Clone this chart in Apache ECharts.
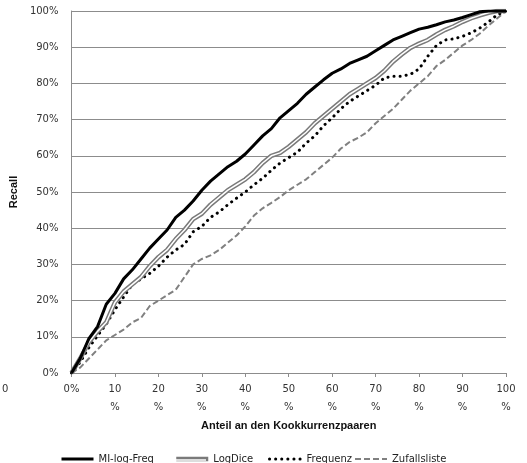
<!DOCTYPE html>
<html>
<head>
<meta charset="utf-8">
<script src="https://cdn.jsdelivr.net/npm/echarts@6/dist/echarts.min.js"></script>
<style>
html,body{margin:0;padding:0;background:#fff;}
#c{width:527px;height:463px;}
</style>
</head>
<body>
<div id="c"></div>
<script>
var xValues = [0,2,4,6,8,10,12,14,16,18,20,22,24,26,28,30,32,34,36,38,40,42,44,46,48,50,52,54,56,58,60,62,64,66,68,70,72,74,76,78,80,82,84,86,88,90,92,94,96,98,100];
var miLogFreq = [0,4,9.5,12.8,19,22,26,28.5,31.5,34.5,37,39.5,43,45,47.5,50.5,53,55,57,58.5,60.5,63,65.5,67.5,70.5,72.5,74.5,77,79,81,82.8,84,85.5,86.5,87.5,89,90.5,92,93,94,95,95.5,96.2,97,97.5,98.2,99,99.8,100,100,100];
var logDice = [0,4,8.5,11.5,14,19.5,22.5,24.5,26.5,29.5,32,34,37,39.5,42.5,44,46.5,48.5,50.5,52,53.5,55.5,58,60,60.8,62.5,64.5,66.5,69,71,73,75,77,78.5,80,81.5,83.5,86,88,89.8,91,92,93.5,94.8,95.8,97,98,98.8,99.5,100,100];
var frequenz = [0,3,7,10.3,13.5,17.5,21,24.5,26,27.5,29.5,32,34,35.5,39,40.5,43,44.5,46.5,48.3,50,52,53.8,56,58,59.5,61,63.5,65.5,68.3,70.5,73,75,76.5,78,79.5,81.5,82,82,82.5,84,87.5,90.5,92,92.3,93,94,95.3,97,99,100];
var zufallsliste = [0,1.5,4,6.5,9,10.5,12,14,15.2,18.5,20,21.5,23,26.5,30,31.5,32.5,34,36,38,40.5,43.5,45.5,47,48.6,50.5,52,53.5,55.5,57.5,59.5,62,63.8,65,66.5,69,71,73,75.5,78,80,82,84.8,86.5,88.5,90.5,92,93.8,96,98,100];
var seriesNames = ['MI-log-Freq','LogDice','Frequenz','Zufallsliste'];
var xTitle = 'Anteil an den Kookkurrenzpaaren';
var yTitle = 'Recall';

function pairs(ys){ return xValues.map(function(x,i){ return [x, ys[i]]; }); }

var FONT = 'DejaVu Sans';
var LEG_TOP = 454;
var chart = echarts.init(document.getElementById('c'), null, {renderer:'canvas'});
var legendTextStyle = {fontFamily:FONT, fontSize:10, color:'#222'};
function leg(name, left, lw){
  return {data:[name], left:left, top:LEG_TOP, padding:0, itemWidth:32, itemHeight:12, itemGap:4,
    textStyle:legendTextStyle, selectedMode:false, itemStyle:{opacity:0}, lineStyle:{width:lw}};
}
chart.setOption({
  animation:false,
  grid:{left:70, right:21, top:11, bottom:90},
  legend:[leg(seriesNames[0],60,3), leg(seriesNames[1],174,4.5), leg(seriesNames[2],268,3), leg(seriesNames[3],354,2)],
  xAxis:{
    type:'value', min:0, max:100, interval:10,
    name:xTitle, nameLocation:'middle', nameGap:46,
    nameTextStyle:{fontFamily:'Liberation Sans', fontWeight:'bold', fontSize:11, color:'#111'},
    axisLine:{show:true, lineStyle:{color:'#8c8c8c', width:1}},
    axisTick:{show:true, length:4, lineStyle:{color:'#8c8c8c'}},
    splitLine:{show:false},
    axisLabel:{fontFamily:FONT, fontSize:10, color:'#333', margin:7, lineHeight:18,
      formatter:function(v){ return v===0 ? '0%' : v + '\n%'; }}
  },
  yAxis:{
    type:'value', min:0, max:100, interval:10,
    name:yTitle, nameLocation:'middle', nameGap:50, nameRotate:90,
    nameTextStyle:{fontFamily:'Liberation Sans', fontWeight:'bold', fontSize:11, color:'#111'},
    axisLine:{show:true, lineStyle:{color:'#8c8c8c', width:1}},
    axisTick:{show:false},
    splitLine:{show:true, lineStyle:{color:'#8c8c8c', width:1}},
    axisLabel:{fontFamily:FONT, fontSize:10, color:'#333', margin:13,
      formatter:function(v){ return v + '%'; }}
  },
  graphic:[
    {type:'text', left:2, top:384, style:{text:'0', font:'10px DejaVu Sans', fill:'#333'}},
    {type:'line', z:100, shape:{x1:174, y1:LEG_TOP+6, x2:206, y2:LEG_TOP+6}, style:{stroke:'#fff', lineWidth:1.5}}
  ],
  series:[
    {name:seriesNames[3], type:'line', data:pairs(zufallsliste), showSymbol:false, symbol:'none',
     lineStyle:{color:'#808080', width:2, type:[6,3]}, itemStyle:{color:'#808080'}, z:2},
    {name:seriesNames[2], type:'line', data:pairs(frequenz), showSymbol:false, symbol:'none',
     lineStyle:{color:'#000', width:3, type:[0.1,6], cap:'round'}, itemStyle:{color:'#000'}, z:3},
    {name:seriesNames[1], type:'line', data:pairs(logDice), showSymbol:false, symbol:'none',
     lineStyle:{color:'#7a7a7a', width:4.5}, itemStyle:{color:'#7a7a7a'}, z:4},
    {name:seriesNames[1]+' ', type:'line', data:pairs(logDice), showSymbol:false, symbol:'none',
     lineStyle:{color:'#fff', width:1.5}, z:5, silent:true},
    {name:seriesNames[0], type:'line', data:pairs(miLogFreq), showSymbol:false, symbol:'none',
     lineStyle:{color:'#000', width:3}, itemStyle:{color:'#000'}, z:6}
  ]
});
</script>
</body>
</html>
